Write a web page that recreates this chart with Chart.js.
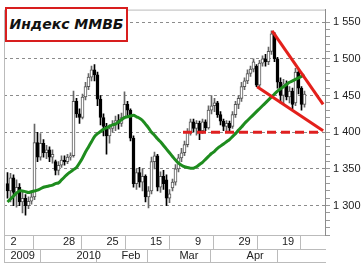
<!DOCTYPE html>
<html>
<head>
<meta charset="utf-8">
<script src="https://cdn.jsdelivr.net/npm/chart.js@4.4.0/dist/chart.umd.min.js"></script>
<style>
  body { margin: 0; background: #fff; }
  #wrap { position: relative; width: 362px; height: 270px; }
  #title {
    position: absolute; left: 5px; top: 7px; width: 119px; height: 31px;
    border: 2.5px solid #d81e1e; background: #fff;
    font: italic bold 14px "DejaVu Sans", Verdana, sans-serif;
    line-height: 31px; text-align: center; color: #111;
  }
</style>
</head>
<body>
<div id="wrap">
  <canvas id="chart" width="362" height="270"></canvas>
  <div id="title">Индекс ММВБ</div>
</div>
<script>
// daily candles, Dec 2009 - Apr 2010 (one per trading day)
const opens = [1330,1320,1338,1318,1325,1305,1310,1300,1306,1312,
  1386,1366,1385,1372,1376,1366,1360,1348,1355,1362,
  1360,1366,1368,1442,1425,1420,1448,1462,1475,1485,
  1478,1445,1420,1408,1395,1405,1410,1416,1412,1420,
  1438,1430,1392,1330,1345,1332,1340,1312,1320,1360,
  1368,1325,1340,1335,1310,1324,1332,1350,1365,1372,
  1383,1400,1414,1405,1412,1402,1414,1406,1430,1436,
  1440,1424,1415,1408,1412,1408,1424,1438,1446,1462,
  1470,1480,1486,1490,1464,1494,1500,1496,1510,1534,
  1500,1468,1450,1466,1448,1456,1440,1482,1460,1438];
const highs = [1345,1344,1342,1335,1330,1318,1315,1312,1320,1411,
  1400,1398,1390,1382,1380,1376,1362,1360,1368,1368,
  1370,1372,1456,1446,1432,1452,1468,1480,1490,1492,
  1482,1450,1425,1412,1410,1416,1422,1424,1426,1455,
  1442,1432,1395,1350,1352,1350,1342,1326,1366,1373,
  1370,1346,1348,1342,1322,1336,1356,1370,1378,1388,
  1405,1418,1418,1416,1415,1418,1417,1436,1450,1446,
  1442,1428,1418,1416,1415,1428,1442,1450,1468,1474,
  1485,1490,1500,1492,1498,1504,1506,1516,1538,1536,
  1502,1474,1472,1470,1462,1460,1487,1484,1462,1456];
const lows = [1310,1305,1300,1298,1300,1290,1287,1296,1302,1308,
  1360,1362,1366,1364,1360,1358,1342,1342,1352,1355,
  1357,1362,1366,1420,1412,1418,1444,1458,1470,1470,
  1436,1410,1395,1370,1385,1400,1402,1404,1408,1418,
  1420,1388,1325,1322,1325,1320,1305,1297,1316,1350,
  1320,1318,1322,1300,1304,1320,1328,1346,1360,1368,
  1380,1396,1400,1396,1390,1398,1402,1404,1425,1428,
  1420,1410,1402,1401,1400,1405,1420,1432,1442,1458,
  1466,1476,1482,1462,1462,1490,1490,1492,1506,1496,
  1460,1440,1438,1444,1440,1432,1436,1452,1430,1434];
const closes = [1320,1338,1318,1325,1305,1310,1300,1306,1312,1386,
  1366,1385,1372,1376,1366,1370,1348,1355,1362,1360,
  1366,1368,1442,1425,1420,1448,1462,1475,1485,1478,
  1445,1420,1408,1395,1405,1410,1416,1412,1420,1438,
  1430,1392,1330,1345,1332,1340,1312,1320,1360,1368,
  1325,1340,1330,1310,1316,1332,1350,1365,1372,1383,
  1400,1414,1405,1412,1402,1414,1406,1430,1436,1440,
  1424,1415,1408,1412,1406,1424,1438,1446,1462,1470,
  1480,1486,1496,1464,1494,1500,1496,1510,1534,1500,
  1468,1450,1466,1448,1456,1438,1482,1460,1438,1452];
// green moving average
const movingAvg = [1305,1309,1313,1317,1320,1320,1319,1318,1319,1320,
  1321,1323,1325,1326,1327,1328,1330,1331,1335,1339,
  1343,1346,1349,1352,1358,1365,1373,1380,1387,1394,
  1398,1401,1404,1406,1408,1410,1411,1414,1417,1420,
  1421,1422,1423,1421,1419,1416,1411,1406,1400,1396,
  1391,1387,1382,1377,1372,1367,1362,1358,1355,1353,
  1352,1351,1351,1353,1356,1359,1363,1367,1371,1374,
  1378,1381,1384,1387,1390,1394,1398,1403,1407,1412,
  1416,1420,1424,1428,1432,1436,1440,1444,1448,1452,
  1456,1459,1462,1465,1468,1470,1472,1474,1476,1478];

// red trend lines (x in candle index units)
const upperTrend = [{x: 88.2, y: 1538}, {x: 105.2, y: 1438}];
const lowerTrend = [{x: 83.2, y: 1462}, {x: 105.2, y: 1402}];
const supportLine = [{x: 58.5, y: 1400}, {x: 105.2, y: 1400}];

// axis rows
const dayTickPos = [-1.1667, 0, 17.5, 32, 46.5, 61.5, 76, 90.5];
const dayTickLabels = ['', '2', '28', '25', '15', '9', '29', '19'];
const monthTickPos = [-1.1667, 0, 22, 37, 56.3, 78.7];
const monthTickLabels = ['', '2009', '2010', 'Feb', 'Mar', 'Apr'];

const xMin = -1.1667, xMax = 105.8333;
const isUp = i => closes[i] >= opens[i];

const frame = {
  id: 'frame',
  afterDraw(chart) {
    const {ctx, chartArea: a} = chart;
    ctx.save();
    ctx.strokeStyle = '#bbb';
    ctx.lineWidth = 1;
    ctx.beginPath();
    ctx.moveTo(a.left + 0.5, 262);
    ctx.lineTo(a.left + 0.5, a.top + 0.5);
    ctx.lineTo(a.right, a.top + 0.5);
    ctx.stroke();
    ctx.restore();
  }
};

const rowAxis = (pos, labels, weight, h) => ({
  type: 'linear', position: 'bottom', min: xMin, max: xMax, offset: false, weight: weight,
  grid: {
    drawOnChartArea: false, drawTicks: true, tickLength: h,
    tickColor: ctx => (ctx.index === 1 ? 'rgba(0,0,0,0)' : '#bbb')
  },
  border: { display: true, color: '#bbb' },
  ticks: {
    autoSkip: false, maxRotation: 0, minRotation: 0, align: 'start', labelOffset: 3,
    padding: -h, color: '#222', font: { size: 11, family: 'Liberation Sans, Arial' },
    callback: (v, i) => labels[i]
  },
  afterBuildTicks: s => { s.ticks = pos.map(v => ({value: v})); },
  afterFit: s => { s.height = h; }
});

new Chart(document.getElementById('chart'), {
  type: 'bar',
  data: {
    datasets: [
      { type: 'line', data: upperTrend, borderColor: '#e3201b', borderWidth: 3, pointRadius: 0 },
      { type: 'line', data: lowerTrend, borderColor: '#e3201b', borderWidth: 3, pointRadius: 0 },
      { type: 'line', data: supportLine, borderColor: '#df2020', borderWidth: 3, borderDash: [9, 5], pointRadius: 0 },
      { type: 'line', data: movingAvg.map((v, i) => ({x: i, y: v})), borderColor: '#1e8c1e',
        borderWidth: 3, pointRadius: 0, tension: 0.3 },
      { data: closes.map((c, i) => ({x: i, y: [opens[i], c]})), grouped: false, barThickness: 3,
        borderWidth: 1, borderSkipped: false,
        backgroundColor: ctx => (isUp(ctx.dataIndex) ? '#fff' : '#000'),
        borderColor: ctx => (isUp(ctx.dataIndex) ? '#555' : '#000') },
      { data: lows.map((l, i) => ({x: i, y: [l, highs[i]]})), grouped: false, barThickness: 1,
        borderWidth: 0,
        backgroundColor: ctx => (isUp(ctx.dataIndex) ? '#666' : '#000') }
    ]
  },
  options: {
    responsive: false, animation: false,
    layout: { padding: { left: 4, top: 5, right: 0, bottom: 8 } },
    plugins: { legend: { display: false }, tooltip: { enabled: false } },
    scales: {
      x: rowAxis(dayTickPos, dayTickLabels, 0, 14),
      x2: rowAxis(monthTickPos, monthTickLabels, 1, 13),
      x3: {
        type: 'linear', position: 'bottom', min: xMin, max: xMax, weight: 2,
        grid: { display: false }, ticks: { display: false },
        border: { display: true, color: '#bbb' },
        afterFit: s => { s.height = 0; }
      },
      y: {
        position: 'right', min: 1260, max: 1567,
        afterBuildTicks: s => { s.ticks = s.ticks.filter(t => t.value % 10 === 0); },
        grid: {
          color: ctx => (ctx.tick && ctx.tick.value % 50 === 0 ? '#8c8c8c' : 'rgba(0,0,0,0)'),
          tickColor: '#999', tickLength: 5
        },
        border: { display: true, color: '#8c8c8c', dash: [3, 3] },
        ticks: {
          stepSize: 10, autoSkip: false, padding: 3, color: '#222',
          font: { size: 11, family: 'Liberation Sans, Arial' },
          callback: v => (v % 50 === 0 ? String(v).replace(/\B(?=(\d{3})+(?!\d))/g, ' ') : '')
        },
        afterFit: s => { s.width = 37; }
      }
    }
  },
  plugins: [frame]
});
</script>
</body>
</html>
